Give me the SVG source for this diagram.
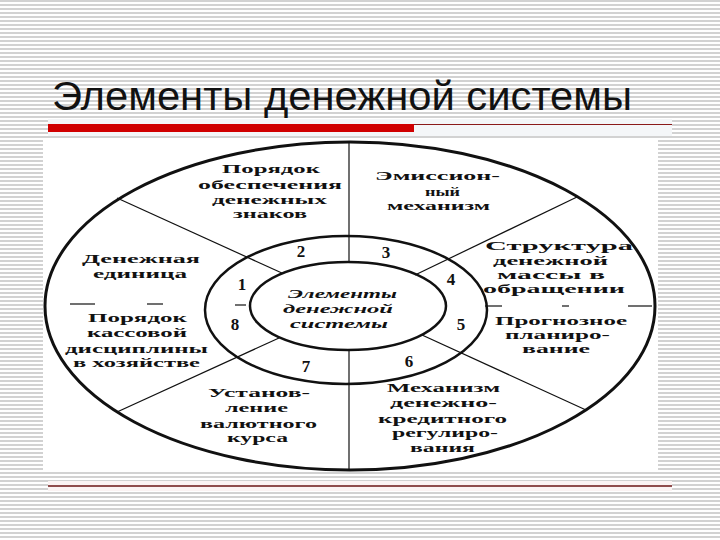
<svg xmlns="http://www.w3.org/2000/svg" width="720" height="540" viewBox="0 0 720 540">
<defs>
<pattern id="stripes" x="0" y="0" width="8" height="4" patternUnits="userSpaceOnUse">
<rect x="0" y="0" width="8" height="4" fill="#ffffff"/>
<rect x="0" y="0" width="8" height="2" fill="#d2d2d2"/>
</pattern>
</defs>
<style>
.lbl{font-family:"Liberation Serif","DejaVu Serif",serif;font-weight:bold;font-size:13px;fill:#111}
.num{font-family:"Liberation Serif","DejaVu Serif",serif;font-weight:bold;font-size:17px;fill:#111;text-anchor:middle}
.ctr{font-family:"Liberation Serif","DejaVu Serif",serif;font-weight:bold;font-style:italic;font-size:13px;fill:#111}
.ring{fill:none;stroke:#111}
.ln{stroke:#111;stroke-width:1.2;fill:none}
</style>
<rect x="0" y="0" width="720" height="540" fill="url(#stripes)"/>
<text x="52" y="110" font-family="Liberation Sans, Arial, sans-serif" font-size="40" fill="#111" textLength="580" lengthAdjust="spacingAndGlyphs">Элементы денежной системы</text>
<rect x="48" y="119" width="624" height="17" fill="#f4f6f8"/>
<rect x="48" y="124" width="366" height="8" fill="#d00000"/>
<line x1="414" y1="124.5" x2="672" y2="124.5" stroke="#8b1a1a" stroke-width="1.2"/>
<rect x="43" y="138" width="615" height="334" fill="#ffffff"/>
<rect x="48" y="481" width="624" height="10" fill="#fbf3f3"/>
<line x1="48" y1="486" x2="672" y2="486" stroke="#6b1414" stroke-width="1.4"/>

<g id="connectors">
<ellipse id="outer" class="ring" cx="350" cy="306" rx="305" ry="164" stroke-width="3"/>
<ellipse id="middle" class="ring" cx="346" cy="310" rx="141" ry="74" stroke-width="2.5"/>
<line class="ln" x1="349" y1="142" x2="349" y2="263" stroke-width="1.6"/>
<line class="ln" x1="349" y1="350" x2="349" y2="470" stroke-width="1.6"/>
<line class="ln" x1="117" y1="198" x2="283" y2="273.5"/>
<line class="ln" x1="577" y1="197" x2="415" y2="275"/>
<line class="ln" x1="117" y1="412" x2="279" y2="338"/>
<line class="ln" x1="422" y1="335" x2="586" y2="410"/>
<g class="ln" stroke-width="1.5">
<line x1="70" y1="304" x2="95" y2="304"/>
<line x1="147" y1="304" x2="163" y2="304"/>
<line x1="235" y1="305" x2="246" y2="305"/>
<line x1="485" y1="306" x2="502" y2="306"/>
<line x1="562" y1="306" x2="569" y2="306"/>
<line x1="628" y1="306" x2="652" y2="306"/>
</g>
</g>

<g id="center">
<ellipse class="ring" cx="348" cy="306" rx="98" ry="44" stroke-width="2.5" fill="#ffffff"/>
<text class="ctr" x="288" y="298" textLength="109" lengthAdjust="spacingAndGlyphs">Элементы</text>
<text class="ctr" x="283" y="313" textLength="110" lengthAdjust="spacingAndGlyphs">денежной</text>
<text class="ctr" x="290" y="328" textLength="98" lengthAdjust="spacingAndGlyphs">системы</text>
</g>

<g id="numbers">
<text class="num" x="242" y="290">1</text>
<text class="num" x="301" y="257">2</text>
<text class="num" x="386" y="258">3</text>
<text class="num" x="451" y="285">4</text>
<text class="num" x="461" y="330">5</text>
<text class="num" x="409" y="367">6</text>
<text class="num" x="306" y="372">7</text>
<text class="num" x="235" y="330">8</text>
</g>

<g id="node-unit">
<text class="lbl" x="82" y="263" textLength="118" lengthAdjust="spacingAndGlyphs">Денежная</text>
<text class="lbl" x="93" y="278" textLength="94" lengthAdjust="spacingAndGlyphs">единица</text>
</g>
<g id="node-backing">
<text class="lbl" x="222" y="173" textLength="98" lengthAdjust="spacingAndGlyphs">Порядок</text>
<text class="lbl" x="198" y="189" textLength="144" lengthAdjust="spacingAndGlyphs">обеспечения</text>
<text class="lbl" x="212" y="204" textLength="115" lengthAdjust="spacingAndGlyphs">денежных</text>
<text class="lbl" x="233" y="218" textLength="74" lengthAdjust="spacingAndGlyphs">знаков</text>
</g>
<g id="node-emission">
<text class="lbl" x="375" y="180" textLength="125" lengthAdjust="spacingAndGlyphs">Эмиссион-</text>
<text class="lbl" x="425" y="196" textLength="35" lengthAdjust="spacingAndGlyphs">ный</text>
<text class="lbl" x="387" y="210" textLength="103" lengthAdjust="spacingAndGlyphs">механизм</text>
</g>
<g id="node-structure">
<text class="lbl" x="485" y="250" textLength="148" lengthAdjust="spacingAndGlyphs">Структура</text>
<text class="lbl" x="493" y="265" textLength="115" lengthAdjust="spacingAndGlyphs">денежной</text>
<text class="lbl" x="497" y="279" textLength="108" lengthAdjust="spacingAndGlyphs">массы в</text>
<text class="lbl" x="483" y="293" textLength="142" lengthAdjust="spacingAndGlyphs">обращении</text>
</g>
<g id="node-forecast">
<text class="lbl" x="495" y="325" textLength="132" lengthAdjust="spacingAndGlyphs">Прогнозное</text>
<text class="lbl" x="505" y="339" textLength="105" lengthAdjust="spacingAndGlyphs">планиро-</text>
<text class="lbl" x="522" y="353" textLength="68" lengthAdjust="spacingAndGlyphs">вание</text>
</g>
<g id="node-regulation">
<text class="lbl" x="387" y="392" textLength="113" lengthAdjust="spacingAndGlyphs">Механизм</text>
<text class="lbl" x="390" y="407" textLength="107" lengthAdjust="spacingAndGlyphs">денежно-</text>
<text class="lbl" x="378" y="423" textLength="129" lengthAdjust="spacingAndGlyphs">кредитного</text>
<text class="lbl" x="392" y="437" textLength="106" lengthAdjust="spacingAndGlyphs">регулиро-</text>
<text class="lbl" x="410" y="452" textLength="65" lengthAdjust="spacingAndGlyphs">вания</text>
</g>
<g id="node-rate">
<text class="lbl" x="208" y="397" textLength="102" lengthAdjust="spacingAndGlyphs">Установ-</text>
<text class="lbl" x="225" y="412" textLength="63" lengthAdjust="spacingAndGlyphs">ление</text>
<text class="lbl" x="200" y="428" textLength="117" lengthAdjust="spacingAndGlyphs">валютного</text>
<text class="lbl" x="227" y="442" textLength="61" lengthAdjust="spacingAndGlyphs">курса</text>
</g>
<g id="node-cash">
<text class="lbl" x="88" y="322" textLength="99" lengthAdjust="spacingAndGlyphs">Порядок</text>
<text class="lbl" x="87" y="337" textLength="100" lengthAdjust="spacingAndGlyphs">кассовой</text>
<text class="lbl" x="65" y="353" textLength="143" lengthAdjust="spacingAndGlyphs">дисциплины</text>
<text class="lbl" x="73" y="367" textLength="127" lengthAdjust="spacingAndGlyphs">в хозяйстве</text>
</g>
</svg>
